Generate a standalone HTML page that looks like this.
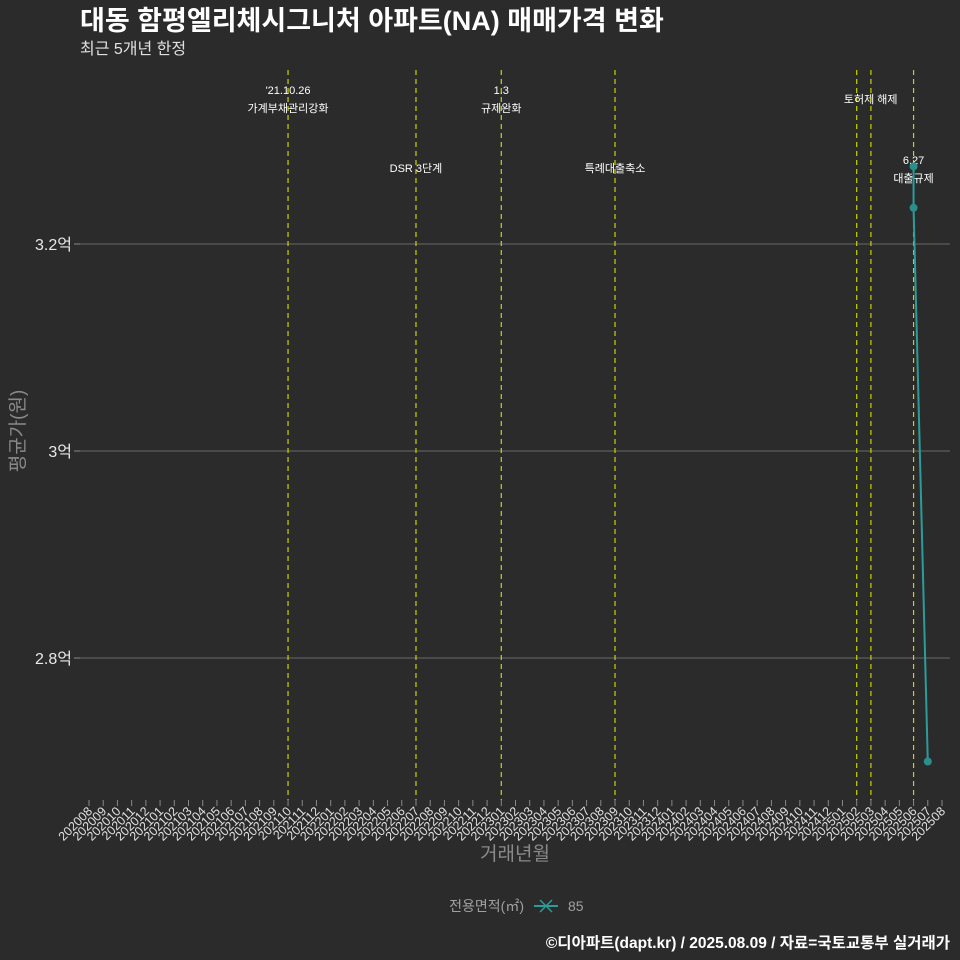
<!DOCTYPE html>
<html><head><meta charset="utf-8"><style>
html,body{margin:0;padding:0;background:#2b2b2b;overflow:hidden;width:960px;height:960px;}
svg{display:block;}
svg text{font-family:"Liberation Sans","Noto Sans CJK KR",sans-serif;}
</style></head><body>
<svg width="960" height="960" viewBox="0 0 960 960" xmlns="http://www.w3.org/2000/svg">
<rect width="960" height="960" fill="#2b2b2b"/>
<text x="80" y="30" font-size="27" font-weight="bold" fill="#ffffff">대동 함평엘리체시그니처 아파트(NA) 매매가격 변화</text>
<text x="80" y="54" font-size="16" fill="#e0e0e0">최근 5개년 한정</text>
<g id="grid"></g><g id="events"></g><g id="xaxis"></g><g id="series"></g>
<text transform="translate(24,431) rotate(-90)" text-anchor="middle" font-size="19" fill="#8a8a8a">평균가(원)</text>
<text x="515" y="860" text-anchor="middle" font-size="19" fill="#8a8a8a">거래년월</text>
<g>
<text x="524" y="911" text-anchor="end" font-size="14" fill="#a0a0a0">전용면적(㎡)</text>
<g>
<line x1="534" y1="906" x2="558" y2="906" stroke="#2a9d9a" stroke-width="2"/>
<line x1="540" y1="900" x2="552" y2="912" stroke="#2a9d9a" stroke-width="1.5"/>
<line x1="540" y1="912" x2="552" y2="900" stroke="#2a9d9a" stroke-width="1.5"/>
<text x="568" y="911" font-size="14" fill="#a0a0a0">85</text></g>
</g>
<text x="950" y="948" text-anchor="end" font-size="15.5" font-weight="bold" fill="#ffffff">©디아파트(dapt.kr) / 2025.08.09 / 자료=국토교통부 실거래가</text>
</svg>
<script>
const months=[];for(let y=2020,m=8;!(y===2025&&m===9);){months.push(''+y+(m<10?'0':'')+m);m++;if(m>12){m=1;y++;}}
const yTicks=[2.8,3.0,3.2];
const yTickLabels=['2.8억','3억','3.2억'];
const seriesMonths=['202506','202506','202507'];
const seriesValues=[3.275,3.235,2.70];
const eventMonths=['202110','202207','202301','202309','202502','202503','202506'];
const eventLabels=[["'21.10.26","가계부채관리강화"],["DSR 3단계"],["1.3","규제완화"],["특례대출축소"],["토허제 해제"],[],["6.27","대출규제"]];
const eventLabelY=[94,172,94,172,103,0,164];
const eventLabelX=[0,0,0,0,14,0,0];
const NS='http://www.w3.org/2000/svg';
const xS=m=>89+months.indexOf(m)*(942-89)/(months.length-1);
const yS=v=>451-(v-3.0)*1035;
function mk(t,a,p){const e=document.createElementNS(NS,t);for(const k in a)e.setAttribute(k,a[k]);p.appendChild(e);return e;}
const g=document.getElementById('grid');
yTicks.forEach((v,i)=>{const y=yS(v);
const l=mk('line',{x1:80,x2:950,y1:y,y2:y,stroke:'#6a6a6a','stroke-width':1},g);


mk('line',{x1:74,x2:80,y1:y,y2:y,stroke:'#888'},g);
const t=mk('text',{x:72,y:y+6,'text-anchor':'end','font-size':16,fill:'#e8e8e8'},g);t.textContent=yTickLabels[i];

});
const ev=document.getElementById('events');
eventMonths.forEach((m,i)=>{const x=xS(m);
const l=mk('line',{x1:x,x2:x,y1:70,y2:800,stroke:'#c8d400','stroke-width':1.2,'stroke-dasharray':'5,4'},ev);


eventLabels[i].forEach((s,j)=>{const t=mk('text',{x:x+eventLabelX[i],y:eventLabelY[i]+j*18,'text-anchor':'middle','font-size':11,fill:'#ffffff'},ev);t.textContent=s;

});});
const xa=document.getElementById('xaxis');
months.forEach(m=>{const x=xS(m);
mk('line',{x1:x,x2:x,y1:800,y2:806,stroke:'#888'},xa);
const t=mk('text',{transform:`translate(${x+4},812) rotate(-45)`,'text-anchor':'end','font-size':12.5,fill:'#e0e0e0'},xa);t.textContent=m;

});
const s=document.getElementById('series');
const pts=seriesMonths.map((m,i)=>[xS(m),yS(seriesValues[i])]);
const pl=mk('polyline',{points:pts.map(p=>p.join(',')).join(' '),fill:'none',stroke:'#2a9d9a','stroke-width':2},s);


pts.forEach(p=>{const c=mk('circle',{cx:p[0],cy:p[1],r:4,fill:'#2a8f8c'},s);

});
</script>
</body></html>
